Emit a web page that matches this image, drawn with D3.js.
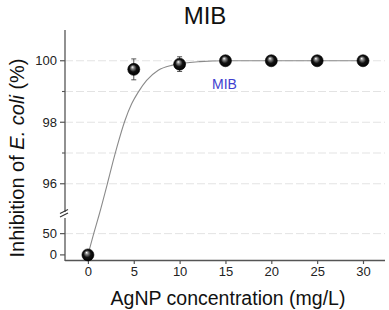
<!DOCTYPE html>
<html>
<head>
<meta charset="utf-8">
<script src="https://cdn.jsdelivr.net/npm/d3@7"></script>
<style>
  html, body { margin: 0; padding: 0; background: #fff; }
  svg { display: block; font-family: Arial, "Liberation Sans", sans-serif; }
</style>
</head>
<body>
<svg id="chart" width="389" height="310"></svg>
<script>
// ---- data ----
const concentrations = [0, 5, 10, 15, 20, 25, 30];
const inhibition = [0, 99.72, 99.89, 100, 100, 100, 100];
const errors = [0, 0.34, 0.24, 0, 0, 0, 0];
const fitX = [0, 0.63, 1.23, 2.12, 2.72, 3.2, 4.03, 4.77, 5.49, 6.4, 7.67, 9.13, 12.2, 15, 20, 25, 30];
const fitY = [0, 50, 95, 96, 96.7, 97.23, 98.05, 98.6, 98.98, 99.36, 99.69, 99.85, 99.97, 100, 100, 100, 100];
const xTicks = [0, 5, 10, 15, 20, 25, 30];
const yTicksUpper = [96, 98, 100];
const yMinorUpper = [97, 99];
const yTicksLower = [0, 50];
const gridValues = [50, 96, 97, 98, 99, 100];

(function () {
const svg = d3.select("#chart");
const pL = 65, pR = 385, pT = 30, pB = 260;
const breakLow = 218, breakHigh = 212;

const x = d3.scaleLinear().domain([-2.5, 32.4]).range([pL, pR]);
// piecewise (broken) y scale
const y = d3.scaleLinear().domain([-12, 95, 101]).range([pB, 214.5, pT]);

const axisColor = "#555";

// grid
svg.append("g").selectAll("line").data(gridValues).join("line")
  .attr("x1", pL).attr("x2", pR)
  .attr("y1", d => y(d)).attr("y2", d => y(d))
  .attr("stroke", "#e3e3e3").attr("stroke-width", 1)
  .attr("stroke-dasharray", "8,3");

// x axis
const xAxis = d3.axisBottom(x).tickValues(xTicks).tickSize(4).tickPadding(3);
const gx = svg.append("g").attr("transform", `translate(0,${pB})`).call(xAxis);
gx.select(".domain").attr("stroke", axisColor).attr("stroke-width", 1.3).attr("d", `M${pL},0.5H${pR}`);
gx.selectAll(".tick line").attr("stroke", axisColor).attr("stroke-width", 1.2);
gx.selectAll(".tick text").attr("font-size", 13).attr("fill", "#222");

// y axis (broken)
const gy = svg.append("g").attr("transform", `translate(${pL},0)`);
gy.append("line").attr("x1", 0).attr("x2", 0).attr("y1", pT).attr("y2", breakHigh)
  .attr("stroke", axisColor).attr("stroke-width", 1.3);
gy.append("line").attr("x1", 0).attr("x2", 0).attr("y1", breakLow).attr("y2", pB + 1)
  .attr("stroke", axisColor).attr("stroke-width", 1.3);
// break marks
[0, 1].forEach(i => {
  gy.append("line")
    .attr("x1", -5).attr("x2", 3)
    .attr("y1", breakLow - 1 - i * 3.5).attr("y2", breakHigh + 1 - i * 3.5)
    .attr("stroke", "#333").attr("stroke-width", 1.1);
});
const yMajor = yTicksUpper.concat(yTicksLower);
gy.selectAll(".maj").data(yMajor).join("line").attr("class", "maj")
  .attr("x1", -5).attr("x2", 0).attr("y1", d => y(d)).attr("y2", d => y(d))
  .attr("stroke", axisColor).attr("stroke-width", 1.2);
gy.selectAll(".min").data(yMinorUpper).join("line").attr("class", "min")
  .attr("x1", -3).attr("x2", 0).attr("y1", d => y(d)).attr("y2", d => y(d))
  .attr("stroke", axisColor).attr("stroke-width", 1.1);
gy.selectAll("text").data(yMajor).join("text")
  .attr("x", -8).attr("y", d => y(d)).attr("dy", "0.35em")
  .attr("text-anchor", "end").attr("font-size", 13).attr("fill", "#222")
  .text(d => d);

// fit curve
const line = d3.line().x(d => x(d[0])).y(d => y(d[1])).curve(d3.curveMonotoneX);
svg.append("path").datum(fitX.map((v, i) => [v, fitY[i]]))
  .attr("d", line).attr("fill", "none").attr("stroke", "#8a8a8a").attr("stroke-width", 1.1);

// error bars
const eb = svg.append("g");
concentrations.forEach((c, i) => {
  if (!errors[i]) return;
  const cx = x(c), y1 = y(inhibition[i] + errors[i]), y2 = y(inhibition[i] - errors[i]);
  eb.append("line").attr("x1", cx).attr("x2", cx).attr("y1", y1).attr("y2", y2).attr("stroke", "#444").attr("stroke-width", 0.9);
  eb.append("line").attr("x1", cx - 2.5).attr("x2", cx + 2.5).attr("y1", y1).attr("y2", y1).attr("stroke", "#444").attr("stroke-width", 0.9);
  eb.append("line").attr("x1", cx - 2.5).attr("x2", cx + 2.5).attr("y1", y2).attr("y2", y2).attr("stroke", "#444").attr("stroke-width", 0.9);
});

// sphere markers
const defs = svg.append("defs");
const grad = defs.append("radialGradient").attr("id", "sphere")
  .attr("cx", "50%").attr("cy", "50%").attr("r", "55%").attr("fx", "38%").attr("fy", "30%");
grad.append("stop").attr("offset", "0%").attr("stop-color", "#ffffff");
grad.append("stop").attr("offset", "22%").attr("stop-color", "#888");
grad.append("stop").attr("offset", "55%").attr("stop-color", "#111");
grad.append("stop").attr("offset", "100%").attr("stop-color", "#000");
svg.append("g").selectAll("circle").data(concentrations).join("circle")
  .attr("cx", d => x(d)).attr("cy", (d, i) => y(inhibition[i]))
  .attr("r", 6).attr("fill", "url(#sphere)").attr("stroke", "#000").attr("stroke-width", 0.6);

// texts
svg.append("text").attr("x", 205).attr("y", 24).attr("text-anchor", "middle")
  .attr("font-size", 24).attr("fill", "#111").text("MIB");
svg.append("text").attr("x", 212).attr("y", 89)
  .attr("font-size", 14).attr("fill", "#3f3fd0").text("MIB");
svg.append("text").attr("x", 228).attr("y", 305).attr("text-anchor", "middle")
  .attr("font-size", 19.5).attr("fill", "#111").text("AgNP concentration (mg/L)");
const yt = svg.append("text").attr("transform", "translate(24,158) rotate(-90)")
  .attr("text-anchor", "middle").attr("font-size", 20).attr("fill", "#111");
yt.append("tspan").text("Inhibition of ");
yt.append("tspan").attr("font-style", "italic").text("E. coli");
yt.append("tspan").text(" (%)");
})();
</script>
</body>
</html>
